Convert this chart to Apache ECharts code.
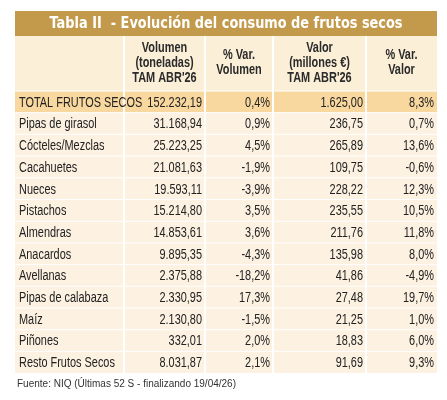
<!DOCTYPE html>
<html><head><meta charset="utf-8">
<script src="https://cdn.jsdelivr.net/npm/echarts@6/dist/echarts.min.js"></script>
<style>html,body{margin:0;padding:0;background:#fff}#c{width:447px;height:400px}</style>
</head><body><div id="c"></div>
<script>
var title = 'Tabla II  - Evolución del consumo de frutos secos';
var headers = ['', 'Volumen\n(toneladas)\nTAM ABR\'26', '% Var.\nVolumen', 'Valor\n(millones €)\nTAM ABR\'26', '% Var.\nValor'];
var categories = ['TOTAL FRUTOS SECOS','Pipas de girasol','Cócteles/Mezclas','Cacahuetes','Nueces','Pistachos','Almendras','Anacardos','Avellanas','Pipas de calabaza','Maíz','Piñones','Resto Frutos Secos'];
var volumen = ['152.232,19','31.168,94','25.223,25','21.081,63','19.593,11','15.214,80','14.853,61','9.895,35','2.375,88','2.330,95','2.130,80','332,01','8.031,87'];
var varVolumen = ['0,4%','0,9%','4,5%','-1,9%','-3,9%','3,5%','3,6%','-4,3%','-18,2%','17,3%','-1,5%','2,0%','2,1%'];
var valor = ['1.625,00','236,75','265,89','109,75','228,22','235,55','211,76','135,98','41,86','27,48','21,25','18,83','91,69'];
var varValor = ['8,3%','0,7%','13,6%','-0,6%','12,3%','10,5%','11,8%','8,0%','-4,9%','19,7%','1,0%','6,0%','9,3%'];
var source = 'Fuente: NIQ (Últimas 52 S - finalizando 19/04/26)';

var colX = [15,124,205,273,366,437];
var F = '"Liberation Sans",Arial,sans-serif';
var SX = 0.78;
function txt(x,y,t,font,align,fill,sx,lh){
  return {type:'text',x:x,y:y,scaleX:sx,style:{x:0,y:0,text:t,fill:fill,font:font,align:align,verticalAlign:'middle',lineHeight:lh}};
}
var g = [];
g.push({type:'rect',shape:{x:15,y:11,width:422,height:25},style:{fill:'#c39a4c'}});
g.push(txt(226,24,title,'bold 15px "DejaVu Sans",sans-serif','center','#fff',0.86));
g.push({type:'rect',shape:{x:15,y:36,width:422,height:55},style:{fill:'#fbefd8'}});
var top0=91, rh=21.7;
var cols=[categories,volumen,varVolumen,valor,varValor];
for (var r=0;r<categories.length;r++){
  var y=top0+r*rh;
  g.push({type:'rect',shape:{x:15,y:y,width:422,height:rh},style:{fill:r===0?'#f9d89f':'#fdf1e1'}});
}
for (var r=0;r<categories.length;r++){
  var y=top0+r*rh;
  g.push({type:'line',shape:{x1:15,y1:y,x2:437,y2:y},style:{stroke:'#fff',lineWidth:1}});
}
for (var c=1;c<5;c++) g.push({type:'line',shape:{x1:colX[c],y1:36,x2:colX[c],y2:top0+categories.length*rh},style:{stroke:'#fff',lineWidth:2}});
for (var c=1;c<5;c++) g.push(txt((colX[c]+colX[c+1])/2,63,headers[c],'bold 14px '+F,'center','#2a2a2a',SX,15));
for (var r=0;r<categories.length;r++){
  var y=top0+r*rh;
  for (var c=0;c<5;c++){
    g.push(txt(c===0?19:colX[c+1]-3,y+rh/2+1,cols[c][r],'14px '+F,c===0?'left':'right','#222',SX));
  }
}
g.push(txt(17,384,source,'10px '+F,'left','#333',1));
var ch=echarts.init(document.getElementById('c'));
ch.setOption({animation:false,graphic:g});
</script></body></html>
